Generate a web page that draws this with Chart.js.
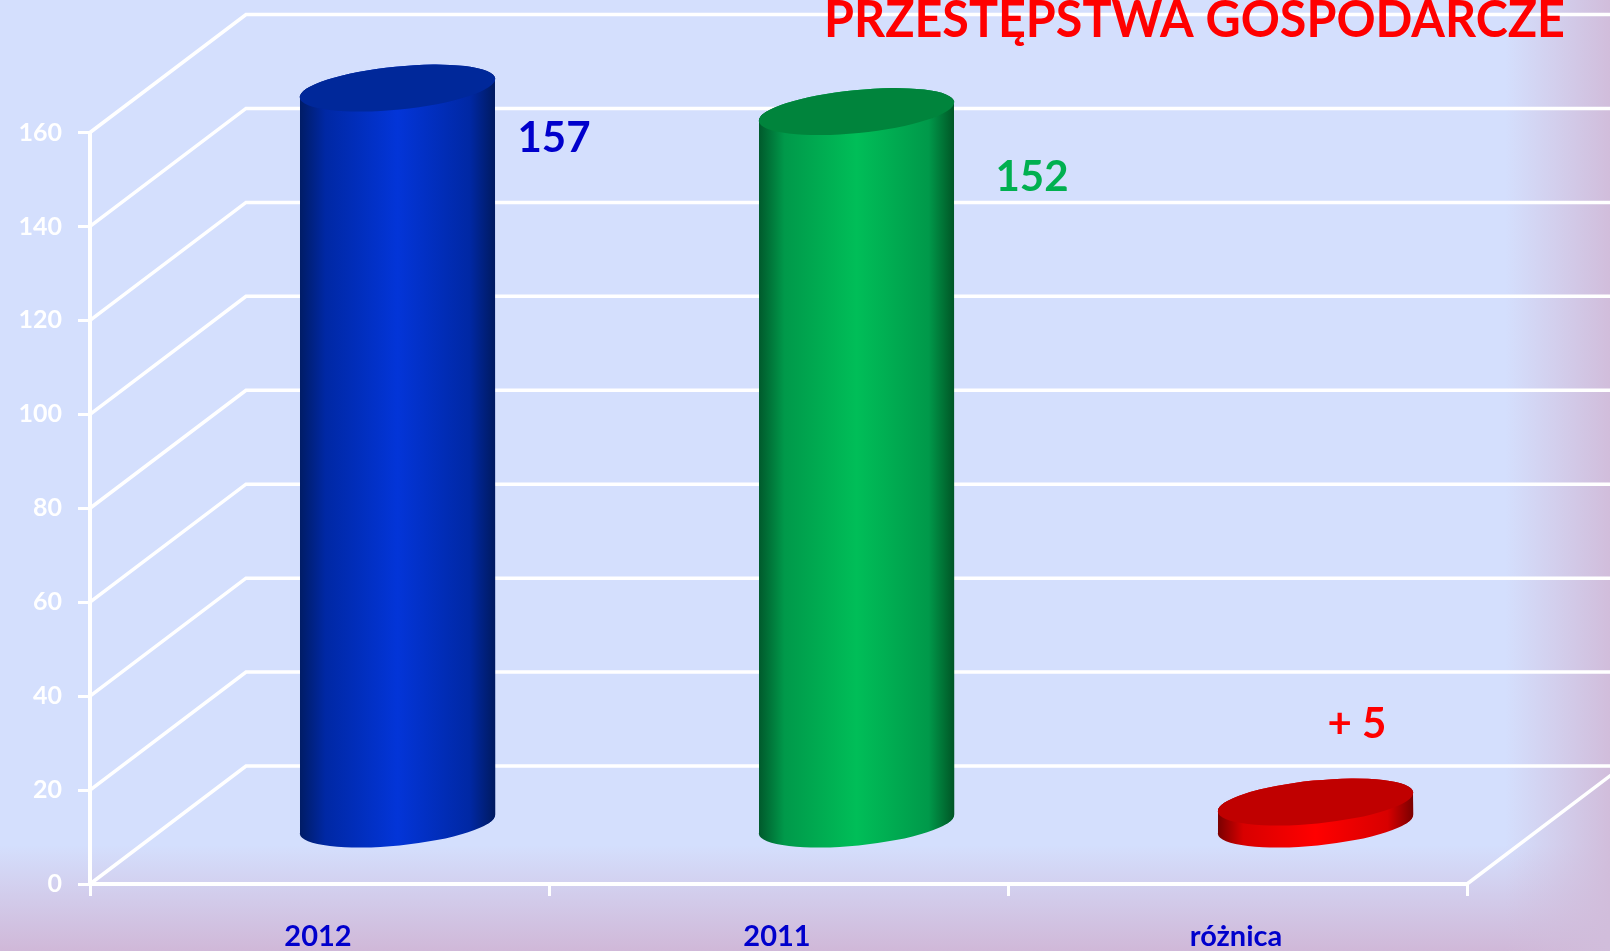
<!DOCTYPE html>
<html lang="pl">
<head>
<meta charset="utf-8">
<title>Przestępstwa gospodarcze</title>
<script src="https://cdn.jsdelivr.net/npm/chart.js@4/dist/chart.umd.min.js"></script>
<style>
html,body{margin:0;padding:0;width:1610px;height:951px;overflow:hidden;
background:
 linear-gradient(to right,rgba(209,189,219,0) 1505px,rgba(209,189,219,1) 1610px),
 linear-gradient(to bottom,rgba(208,184,216,0) 845px,rgba(208,184,216,1) 951px),
 #D4DFFD;}
canvas{display:block}
</style>
</head>
<body>
<canvas id="c" width="1610" height="951"></canvas>
<script>
const categories = ['2012', '2011', 'różnica'];
const values = [157, 152, 5];
const valueLabels = ['157', '152', '+ 5'];
const labelColors = ['#0000CC', '#00B050', '#FF0000'];
const labelOffsets = [[120, 50], [139, 66], [12, -78]];
const bodyStops = [
  ['#001C66', '#0028A4', '#0335D8', '#0028A4', '#001A60'],
  ['#005A2C', '#00994A', '#00BE58', '#00994A', '#005626'],
  ['#7A0000', '#D80000', '#FF0000', '#D80000', '#7A0000']
];
const capColors = ['#00289A', '#00843C', '#C00000'];
const titleText = 'PRZESTĘPSTWA GOSPODARCZE';

const DEPTH_X = 156, DEPTH_Y = -118, BAR_SHIFT_X = 78, BAR_SHIFT_Y = -58.5;
const A = 98.2, B = 21.5, TILT = -0.099, HALF = 97.5, EDGE = 9;

function cylinderPath(ctx, x, top, base) {
  ctx.moveTo(x - HALF, top + EDGE);
  ctx.lineTo(x - HALF, base + EDGE);
  ctx.ellipse(x, base, A, B, TILT, Math.PI, 0, true);
  ctx.lineTo(x + HALF, top - EDGE);
  ctx.ellipse(x, top, A, B, TILT, 0, Math.PI, true);
  ctx.closePath();
}

const cylinder3d = {
  id: 'cylinder3d',
  beforeDatasetsDraw(chart) {
    const { ctx, chartArea: a, scales: { y } } = chart;
    ctx.save();
    ctx.strokeStyle = '#FFFFFF';
    ctx.lineWidth = 3.5;
    ctx.beginPath();
    y.ticks.forEach(t => {
      const py = y.getPixelForValue(t.value);
      ctx.moveTo(a.left, py);
      ctx.lineTo(a.left + DEPTH_X, py + DEPTH_Y);
      ctx.lineTo(chart.width, py + DEPTH_Y);
    });
    ctx.moveTo(a.right, a.bottom);
    ctx.lineTo(a.right + DEPTH_X, a.bottom + DEPTH_Y);
    ctx.stroke();
    ctx.restore();

    const bars = chart.getDatasetMeta(0).data;
    ctx.save();
    ctx.translate(BAR_SHIFT_X, BAR_SHIFT_Y);
    ctx.beginPath();
    bars.forEach(b => cylinderPath(ctx, b.x, b.y, b.base));
    ctx.clip();
  },
  afterDatasetsDraw(chart) {
    const { ctx } = chart;
    ctx.restore();
    chart.getDatasetMeta(0).data.forEach((b, i) => {
      const x = b.x + BAR_SHIFT_X, top = b.y + BAR_SHIFT_Y, base = b.base + BAR_SHIFT_Y;
      const g = ctx.createLinearGradient(x - HALF, 0, x + HALF, 0);
      const s = bodyStops[i];
      g.addColorStop(0, s[0]);
      g.addColorStop(0.13, s[1]);
      g.addColorStop(0.5, s[2]);
      g.addColorStop(0.87, s[3]);
      g.addColorStop(1, s[4]);
      ctx.save();
      ctx.fillStyle = g;
      ctx.beginPath();
      cylinderPath(ctx, x, top, base);
      ctx.fill();
      ctx.fillStyle = capColors[i];
      ctx.beginPath();
      ctx.ellipse(x, top, A, B, TILT, 0, Math.PI * 2);
      ctx.fill();
      ctx.restore();
    });
  },
  afterDraw(chart) {
    const { ctx } = chart;
    const bars = chart.getDatasetMeta(0).data;
    ctx.save();
    ctx.textBaseline = 'middle';
    ctx.textAlign = 'left';
    ctx.font = 'bold 42px Lato';
    bars.forEach((b, i) => {
      ctx.fillStyle = labelColors[i];
      ctx.fillText(valueLabels[i], b.x + labelOffsets[i][0] + BAR_SHIFT_X, b.y + labelOffsets[i][1] + BAR_SHIFT_Y);
    });
    ctx.restore();
    ctx.save();
    ctx.fillStyle = '#FF0000';
    ctx.textBaseline = 'alphabetic';
    ctx.textAlign = 'left';
    ctx.font = 'bold 51px Lato';
    ctx.translate(824, 37);
    ctx.scale(0.95, 1);
    ctx.fillText(titleText, 0, 0);
    ctx.restore();
  }
};

new Chart(document.getElementById('c'), {
  type: 'bar',
  data: {
    labels: categories,
    datasets: [{
      data: values,
      backgroundColor: capColors,
      barThickness: 195,
      borderWidth: 0
    }]
  },
  plugins: [cylinder3d],
  options: {
    responsive: false,
    animation: false,
    layout: { padding: { top: 132.5, right: 143, left: 0, bottom: 0 } },
    plugins: { legend: { display: false }, tooltip: { enabled: false } },
    scales: {
      x: {
        afterFit(s) { s.height = 67; },
        border: { display: true, color: '#FFFFFF', width: 4 },
        grid: { drawOnChartArea: false, drawTicks: true, tickLength: 12, color: '#FFFFFF', lineWidth: 3 },
        ticks: { color: '#0000CC', font: { family: 'Lato', weight: 'bold', size: 29 }, padding: 23, maxRotation: 0, labelOffset: -1.5 }
      },
      y: {
        min: 0, max: 160,
        afterFit(s) { s.width = 90; },
        border: { display: true, color: '#FFFFFF', width: 4 },
        grid: { drawOnChartArea: false, drawTicks: true, tickLength: 12, color: '#FFFFFF', lineWidth: 3 },
        ticks: { stepSize: 20, color: '#FFFFFF', font: { family: 'Lato', weight: 'bold', size: 25 }, padding: 16 }
      }
    }
  }
});
</script>
</body>
</html>
